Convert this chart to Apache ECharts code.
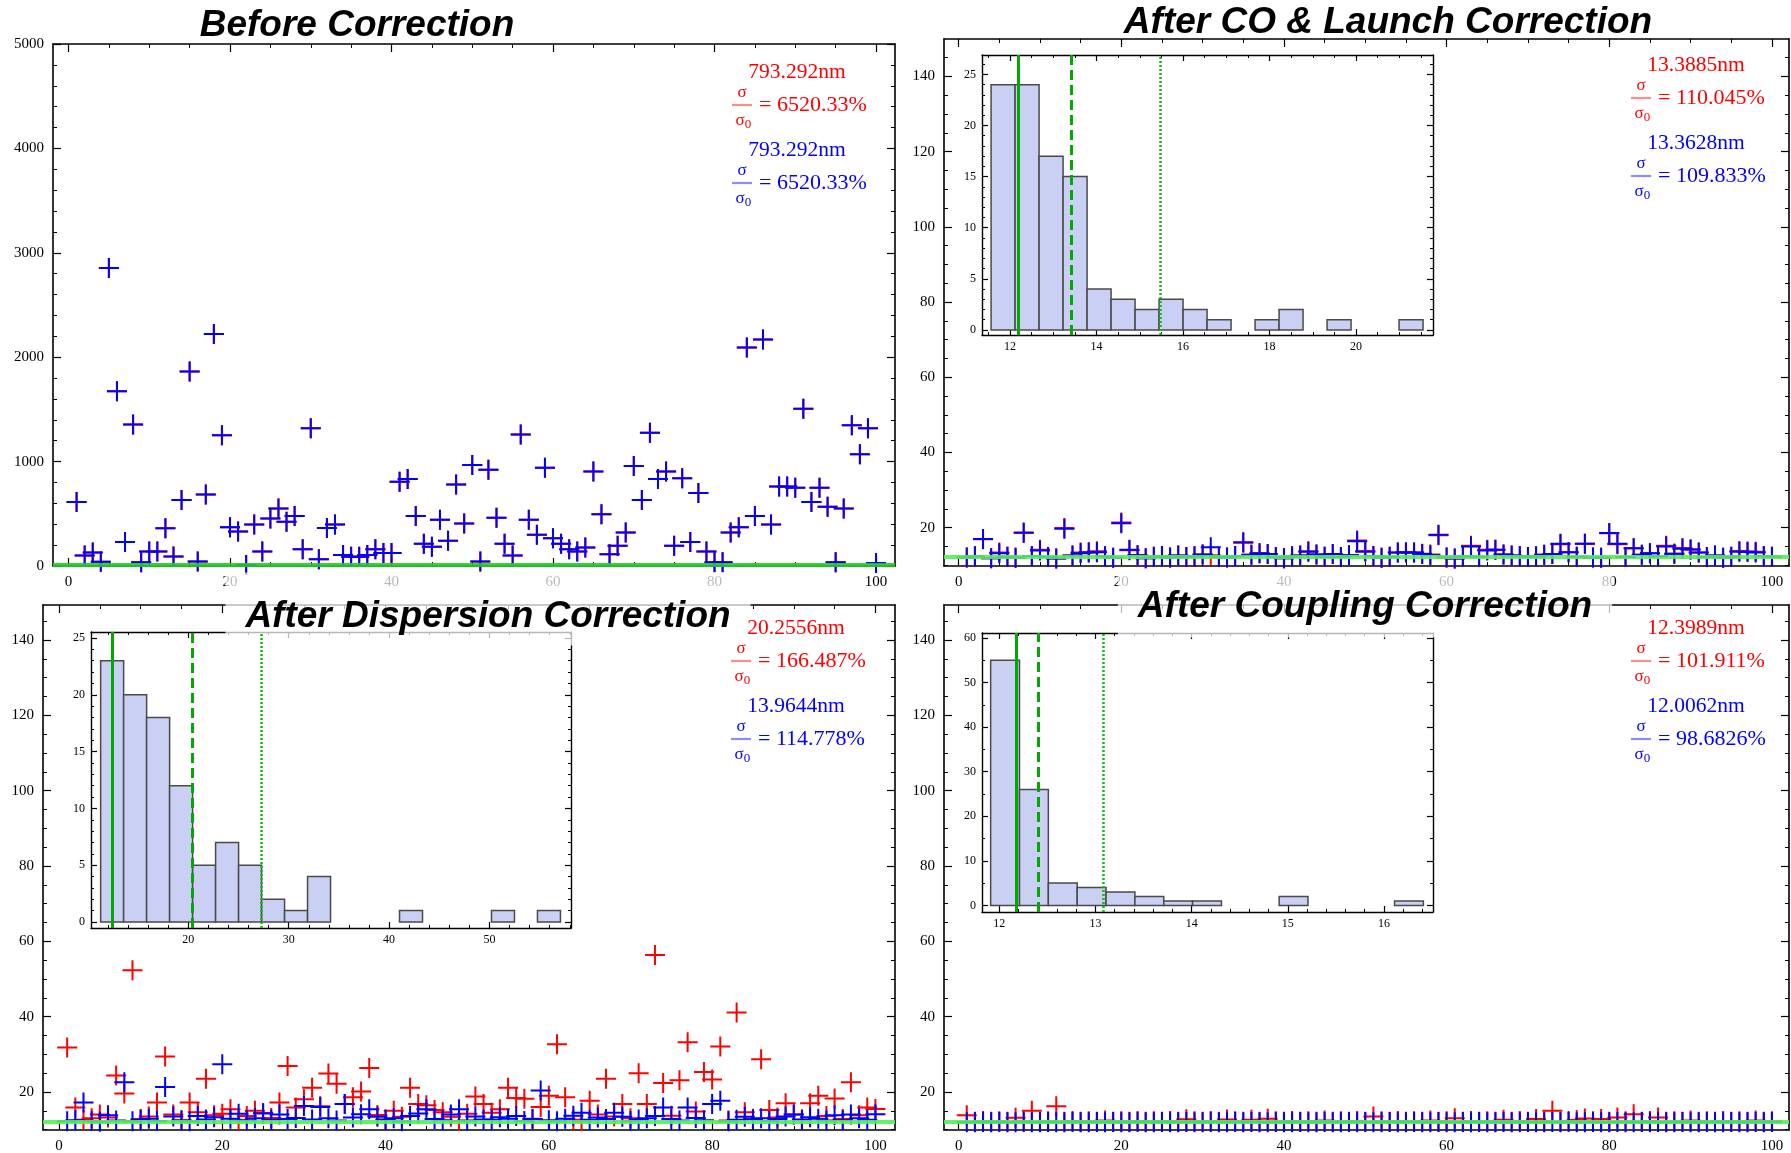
<!DOCTYPE html>
<html>
<head>
<meta charset="utf-8">
<script src="https://cdn.jsdelivr.net/npm/echarts@6/dist/echarts.min.js"></script>
<style>
  html, body { margin: 0; padding: 0; background: #fff; }
  #chart { width: 1791px; height: 1153px; }
</style>
</head>
<body>
<div id="chart"></div>
<script>
// ---- data ----------------------------------------------------------------
// sample index (x) for every scatter panel: points 1..100
const pointIdx = Array.from({ length: 100 }, (_, i) => i + 1);

// before correction (red and blue coincide)
const beforeVals = [
  613, 100, 130, 40, 2855, 1674, 230, 1355, 35, 140,
  140, 362, 90, 631, 1862, 42, 684, 2223, 1252, 372,
  330, 10, 397, 140, 454, 550, 425, 479, 160, 1319,
  64, 365, 397, 106, 89, 89, 106, 160, 124, 124,
  808, 833, 479, 213, 184, 443, 241, 780, 408, 968,
  42, 922, 461, 213, 100, 1259, 443, 300, 940, 266,
  213, 160, 140, 177, 904, 496, 113, 195, 320, 957,
  631, 1277, 833, 904, 195, 840, 230, 699, 140, 35,
  35, 320, 372, 2092, 479, 2170, 397, 762, 762, 750,
  1507, 613, 750, 567, 35, 550, 1347, 1071, 1319, 28
];

// after CO & launch correction
const trRed = [
  12.1, 12.4, 16.9, 11.9, 13.4, 12.3, 12.0, 18.6, 12.5, 14.1,
  12.2, 11.8, 19.9, 12.6, 13.4, 13.5, 13.7, 12.4, 12.0, 21.4,
  14.0, 12.7, 11.9, 12.3, 12.5, 12.1, 12.6, 12.2, 12.4, 12.9,
  12.7, 12.3, 12.1, 12.5, 16.0, 12.8, 13.2, 13.0, 12.2, 11.9,
  12.4, 12.6, 13.7, 12.9, 12.3, 13.0, 12.2, 12.7, 16.6, 13.8,
  12.5, 12.0, 12.3, 13.4, 13.5, 13.4, 13.1, 12.9, 18.0, 12.1,
  11.8, 12.4, 15.2, 12.3, 14.1, 14.1, 12.9, 12.6, 12.5, 12.2,
  12.4, 12.8, 13.0, 15.6, 13.5, 12.3, 15.7, 12.1, 12.0, 18.5,
  15.6, 12.2, 14.5, 12.8, 13.2, 12.4, 15.2, 13.1, 14.6, 14.2,
  13.4, 12.2, 12.6, 12.0, 12.3, 13.8, 13.6, 13.6, 12.5, 12.3
];
const trBlue = [
  12.1, 12.4, 17.0, 11.9, 13.2, 12.3, 12.0, 18.7, 12.5, 13.9,
  12.2, 11.8, 19.7, 12.6, 13.2, 13.4, 13.5, 12.4, 12.0, 21.2,
  14.1, 12.7, 11.9, 12.3, 12.5, 12.1, 12.6, 12.2, 12.4, 12.9,
  14.8, 12.3, 12.1, 12.5, 16.1, 12.8, 13.2, 13.0, 12.2, 11.9,
  12.4, 12.6, 13.6, 12.9, 12.3, 13.0, 12.2, 12.7, 16.4, 13.6,
  12.5, 12.0, 12.3, 13.4, 13.4, 13.4, 13.0, 12.7, 18.1, 12.1,
  11.8, 12.4, 15.0, 12.3, 13.9, 14.1, 12.9, 12.6, 12.5, 12.2,
  12.4, 12.8, 13.0, 15.7, 13.5, 12.3, 15.7, 12.1, 12.0, 18.6,
  15.7, 12.2, 14.5, 12.8, 13.2, 12.4, 15.0, 13.1, 14.4, 14.2,
  13.4, 12.2, 12.6, 12.0, 12.3, 13.6, 13.6, 13.4, 12.5, 12.3
];

// after dispersion correction
const blRed = [
  31.8, 15.9, 12.6, 13.0, 14.0, 13.2, 24.4, 19.6, 52.3, 12.8,
  13.5, 17.2, 29.4, 14.0, 12.5, 17.2, 14.6, 23.5, 13.8, 14.2,
  15.4, 12.4, 13.6, 15.0, 14.4, 13.1, 17.2, 26.9, 15.9, 18.1,
  21.1, 16.2, 24.9, 22.2, 16.8, 18.6, 20.1, 26.4, 13.9, 12.7,
  15.0, 13.4, 21.1, 16.8, 16.5, 15.2, 14.6, 13.4, 12.3, 14.2,
  18.8, 16.8, 14.5, 15.4, 21.1, 18.4, 18.2, 12.9, 16.0, 19.0,
  32.7, 18.6, 12.6, 12.2, 17.7, 14.0, 23.5, 13.5, 16.8, 13.0,
  25.0, 16.8, 56.4, 22.4, 13.7, 23.1, 33.2, 14.8, 25.3, 23.3,
  32.1, 12.4, 41.1, 14.6, 12.9, 28.7, 15.2, 13.2, 17.0, 14.0,
  12.7, 17.0, 19.0, 13.6, 18.3, 12.8, 22.6, 13.8, 15.9, 15.5
];
const blBlue = [
  12.2, 12.5, 17.2, 12.3, 12.1, 13.8, 12.4, 22.6, 12.2, 12.6,
  12.9, 12.3, 21.3, 13.5, 12.4, 12.2, 13.6, 12.7, 13.3, 27.4,
  12.9, 14.2, 12.5, 13.0, 14.3, 12.6, 14.0, 12.8, 13.1, 16.3,
  12.7, 16.0, 13.0, 12.4, 16.8, 13.2, 14.1, 15.4, 13.4, 12.6,
  13.0, 12.2, 13.6, 14.3, 15.4, 12.8, 12.5, 14.0, 15.4, 12.4,
  13.5, 12.7, 12.6, 13.3, 12.9, 13.6, 12.3, 12.8, 20.4, 12.5,
  12.2, 12.9, 13.7, 14.5, 12.6, 13.2, 12.8, 14.5, 13.4, 12.3,
  12.7, 13.0, 13.6, 15.9, 12.8, 12.4, 15.9, 13.1, 12.5, 16.8,
  17.7, 12.2, 12.6, 13.4, 12.7, 13.0, 12.3, 12.8, 13.5, 14.0,
  12.6, 13.3, 12.9, 12.4, 13.8, 12.5, 14.0, 13.0, 12.6, 14.1
];

// after coupling correction
const brRed = [
  13.8, 12.1, 12.3, 12.1, 12.2, 12.1, 13.15, 12.3, 15.0, 12.1,
  12.2, 16.2, 12.1, 12.3, 12.1, 12.2, 12.1, 12.4, 12.1, 12.2,
  12.1, 12.3, 12.1, 12.2, 12.1, 12.3, 12.1, 12.75, 12.2, 12.1,
  12.3, 12.1, 12.7, 12.2, 12.1, 12.65, 12.1, 12.9, 12.2, 12.1,
  12.3, 12.1, 12.2, 12.1, 12.4, 12.1, 12.2, 12.1, 12.3, 12.1,
  13.5, 12.2, 12.1, 12.3, 12.1, 12.2, 12.1, 12.4, 12.1, 12.2,
  13.0, 12.1, 12.3, 12.1, 12.2, 12.1, 12.6, 12.1, 12.3, 12.1,
  12.85, 12.2, 15.0, 12.1, 12.3, 12.55, 12.95, 12.2, 12.85, 12.1,
  13.2, 12.2, 14.1, 12.1, 12.3, 13.25, 12.1, 12.2, 12.1, 12.4,
  12.1, 12.2, 12.1, 12.3, 12.1, 12.2, 12.1, 12.4, 12.1, 12.2
];
const brBlue = [
  12.0, 11.98, 12.02, 12.0, 12.01, 11.99, 12.0, 12.03, 11.98, 12.0,
  12.02, 12.0, 11.99, 12.01, 12.0, 11.98, 12.02, 12.0, 12.01, 11.99,
  12.0, 12.02, 11.98, 12.0, 12.01, 11.99, 12.0, 12.02, 12.0, 11.98,
  12.01, 12.0, 11.99, 12.02, 12.0, 12.01, 11.98, 12.0, 12.02, 11.99,
  12.0, 12.01, 12.0, 11.98, 12.02, 12.0, 11.99, 12.01, 12.0, 12.02,
  11.98, 12.0, 12.01, 11.99, 12.0, 12.02, 12.0, 11.98, 12.01, 12.0,
  11.99, 12.02, 12.0, 12.01, 11.98, 12.0, 12.02, 11.99, 12.0, 12.01,
  12.0, 11.98, 12.02, 12.0, 12.01, 11.99, 12.0, 12.02, 11.98, 12.0,
  12.01, 12.0, 11.99, 12.02, 12.0, 12.01, 11.98, 12.0, 12.02, 11.99,
  12.0, 12.01, 12.0, 11.98, 12.02, 12.0, 11.99, 12.01, 12.0, 12.02
];

// design emittance (green reference line)
const designLevel = 12.16;

// inset histograms: counts per bin, bin start and bin width
const trHistCounts = [24, 24, 17, 15, 4, 3, 2, 3, 2, 1, 0, 1, 2, 0, 1, 0, 0, 1];
const trBinStart = 11.56, trBinWidth = 0.555;
const blHistCounts = [23, 20, 18, 12, 5, 7, 5, 2, 1, 4, 0, 0, 0, 1, 0, 0, 0, 1, 0, 1];
const blBinStart = 11.27, blBinWidth = 2.29;
const brHistCounts = [55, 26, 5, 4, 3, 2, 1, 1, 0, 0, 2, 0, 0, 0, 1];
const brBinStart = 11.91, brBinWidth = 0.3;

// vertical markers in the insets: solid, dashed, dotted
const trMarkers = [12.18, 13.41, 15.48];
const blMarkers = [12.4, 20.4, 27.24];
const brMarkers = [12.18, 12.41, 13.08];

// annotation texts [red value, red ratio, blue value, blue ratio]
const tlStats = ['793.292nm', '6520.33%', '793.292nm', '6520.33%'];
const trStats = ['13.3885nm', '110.045%', '13.3628nm', '109.833%'];
const blStats = ['20.2556nm', '166.487%', '13.9644nm', '114.778%'];
const brStats = ['12.3989nm', '101.911%', '12.0062nm', '98.6826%'];

// tick labels
const idxTicks = [0, 20, 40, 60, 80, 100];
const beforeTicks = [0, 1000, 2000, 3000, 4000, 5000];
const emitTicks = [20, 40, 60, 80, 100, 120, 140];
const trInsetXTicks = [12, 14, 16, 18, 20];
const blInsetXTicks = [20, 30, 40, 50];
const brInsetXTicks = [12, 13, 14, 15, 16];
const countTicks25 = [0, 5, 10, 15, 20, 25];
const countTicks60 = [0, 10, 20, 30, 40, 50, 60];

// ---- helpers -------------------------------------------------------------
const SERIF = '"Liberation Serif", "Times New Roman", serif';
const SANS = '"Liberation Sans", Arial, sans-serif';

function steps(a, b, s) {
  const out = [];
  for (let v = a; v <= b + 1e-9; v += s) out.push(+v.toFixed(4));
  return out;
}

const grids = [];
const xAxes = [];
const yAxes = [];
const series = [];

// frame with inward ticks on all four sides, like the original plots
function frameAxes(list, dim, gi, min, max, majors, minors, st) {
  const sides = dim === 'x' ? ['bottom', 'top'] : ['left', 'right'];
  let first = -1;
  sides.forEach((side, s) => {
    const base = { type: 'value', gridIndex: gi, min: min, max: max, position: side,
      splitLine: { show: false }, axisPointer: { show: false } };
    if (s === 0) first = list.length;
    list.push(Object.assign({}, base, {
      axisLine: { show: true, onZero: false, lineStyle: { color: '#000', width: st.lw } },
      axisTick: { show: true, inside: true, length: st.major, customValues: majors,
        lineStyle: { color: '#000', width: 1.2 } },
      axisLabel: s === 0 ? {
        show: true, customValues: majors, margin: st.margin, color: '#000',
        fontFamily: SERIF, fontSize: st.size, formatter: v => String(v)
      } : { show: false }
    }));
    list.push(Object.assign({}, base, {
      axisLine: { show: false, onZero: false },
      axisTick: { show: true, inside: true, length: st.minor, customValues: minors,
        lineStyle: { color: '#000', width: 1 } },
      axisLabel: { show: false }
    }));
  });
  return first;
}

const CROSS = 'path://M9,0h2v9h9v2h-9v9h-2v-9h-9v-2h9z';

function scatterPanel(rect, xr, yr, yMajors, yMinors, redVals, blueVals, lineColor) {
  const gi = grids.length;
  grids.push(Object.assign({ show: false, containLabel: false, outerBoundsMode: 'none' }, rect));
  const xi = frameAxes(xAxes, 'x', gi, xr[0], xr[1], idxTicks, steps(0, 100, 5),
    { lw: 1.6, major: 8, minor: 4, margin: 9, size: 15 });
  const yi = frameAxes(yAxes, 'y', gi, yr[0], yr[1], yMajors, yMinors,
    { lw: 1.6, major: 8, minor: 4, margin: 9, size: 15 });
  const pts = vals => vals.map((v, i) => [pointIdx[i], v]);
  series.push({
    type: 'scatter', xAxisIndex: xi, yAxisIndex: yi, data: pts(redVals),
    symbol: CROSS, symbolSize: 20, itemStyle: { color: '#ff0000', opacity: 1 }, z: 2
  });
  series.push({
    type: 'scatter', xAxisIndex: xi, yAxisIndex: yi, data: pts(blueVals),
    symbol: CROSS, symbolSize: 20, itemStyle: { color: '#0000ff', opacity: 1 }, z: 3,
    markLine: {
      silent: true, symbol: ['none', 'none'], label: { show: false }, animation: false,
      lineStyle: { color: lineColor, width: 4, type: 'solid', opacity: 0.9 },
      data: [{ yAxis: designLevel }]
    }
  });
}

function histInset(rect, xr, yr, xMajors, xMinors, yMajors, yMinors, counts, start, width, markers) {
  const gi = grids.length;
  grids.push(Object.assign({ show: true, backgroundColor: '#fff', borderWidth: 0,
    containLabel: false, outerBoundsMode: 'none' }, rect));
  const xi = frameAxes(xAxes, 'x', gi, xr[0], xr[1], xMajors, xMinors,
    { lw: 1.4, major: 6, minor: 3, margin: 6, size: 12 });
  const yi = frameAxes(yAxes, 'y', gi, yr[0], yr[1], yMajors, yMinors,
    { lw: 1.4, major: 6, minor: 3, margin: 6, size: 12 });
  const bins = [];
  counts.forEach((c, i) => { if (c > 0) bins.push([start + i * width, start + (i + 1) * width, c]); });
  const green = '#00aa00';
  series.push({
    type: 'custom', xAxisIndex: xi, yAxisIndex: yi, data: bins, z: 10,
    encode: { x: [0, 1], y: 2 },
    renderItem: (params, api) => {
      const p0 = api.coord([api.value(0), 0]);
      const p1 = api.coord([api.value(1), api.value(2)]);
      return {
        type: 'rect',
        shape: { x: p0[0], y: p1[1], width: p1[0] - p0[0], height: p0[1] - p1[1] },
        style: { fill: '#c9d0f3', stroke: '#4a4a4a', lineWidth: 1.5 }
      };
    },
    markLine: {
      silent: true, symbol: ['none', 'none'], label: { show: false }, animation: false, z: 11,
      data: [
        { xAxis: markers[0], lineStyle: { color: green, width: 3, type: 'solid' } },
        { xAxis: markers[1], lineStyle: { color: green, width: 3, type: [10, 5] } },
        { xAxis: markers[2], lineStyle: { color: '#11bb11', width: 2.5, type: [2, 2] } }
      ]
    }
  });
}

// ---- panels --------------------------------------------------------------
scatterPanel({ left: 53, top: 44, width: 842, height: 522 }, [-1.92, 102.35], [0, 5000],
  beforeTicks, steps(0, 5000, 200), beforeVals, beforeVals, '#22cc22');
scatterPanel({ left: 944, top: 39, width: 845, height: 527 }, [-1.8, 102.1], [9.81, 149.97],
  emitTicks, steps(10, 145, 5), trRed, trBlue, '#55ee55');
scatterPanel({ left: 43, top: 605, width: 852, height: 525 }, [-1.96, 102.4], [9.91, 149.3],
  emitTicks, steps(10, 145, 5), blRed, blBlue, '#55ee55');
scatterPanel({ left: 944, top: 605, width: 845, height: 525 }, [-1.8, 102.1], [9.91, 149.3],
  emitTicks, steps(10, 145, 5), brRed, brBlue, '#55ee55');

histInset({ left: 982, top: 55, width: 451, height: 280 }, [11.35, 21.78], [-0.5, 26.9],
  trInsetXTicks, steps(11.5, 21.5, 0.5), countTicks25, steps(0, 26, 1),
  trHistCounts, trBinStart, trBinWidth, trMarkers);
histInset({ left: 91, top: 632, width: 480, height: 296 }, [10.31, 58.12], [-0.53, 25.53],
  blInsetXTicks, steps(12, 58, 2), countTicks25, steps(0, 25, 1),
  blHistCounts, blBinStart, blBinWidth, blMarkers);
histInset({ left: 982, top: 633, width: 451, height: 279 }, [11.82, 16.51], [-1.48, 61.1],
  brInsetXTicks, steps(11.8, 16.4, 0.2), countTicks60, steps(0, 60, 5),
  brHistCounts, brBinStart, brBinWidth, brMarkers);

// ---- titles --------------------------------------------------------------
const titleFont = { fontFamily: SANS, fontWeight: 'bold', fontStyle: 'italic', fontSize: 37, color: '#000' };
const veil = 'rgba(255,255,255,0.72)';
const titles = [
  { text: 'Before Correction', left: 357, top: 26, textAlign: 'center', textVerticalAlign: 'middle',
    padding: 0, textStyle: titleFont },
  { text: 'After CO & Launch Correction', left: 1388, top: 23, textAlign: 'center', textVerticalAlign: 'middle',
    padding: 0, textStyle: titleFont },
  { text: 'After Dispersion Correction', left: 468, top: 591, textAlign: 'center', textVerticalAlign: 'middle',
    padding: [26, 20, 10, 20], backgroundColor: veil, textStyle: titleFont },
  { text: 'After Coupling Correction', left: 1345, top: 592, textAlign: 'center', textVerticalAlign: 'middle',
    padding: [15, 20, 12, 20], backgroundColor: veil, textStyle: titleFont }
];

// ---- sigma annotations ---------------------------------------------------
function textEl(x, y, text, fill, size, align) {
  return {
    type: 'text', x: x, y: y, z: 50,
    style: { text: text, fill: fill, font: size + 'px ' + SERIF,
      align: align, verticalAlign: 'middle', textAlign: align, textVerticalAlign: 'middle' }
  };
}
function annotation(lx, y0, s) {
  const els = [];
  [[s[0], s[1], '#ff0000', '#ff8c8c', 0], [s[2], s[3], '#0000ff', '#8c8cff', 78]].forEach(r => {
    const y = y0 + r[4];
    els.push(textEl(lx + 65, y, r[0], r[2], 21.5, 'center'));
    els.push(textEl(lx + 10, y + 21, 'σ', r[2], 17, 'center'));
    els.push({ type: 'line', z: 50, shape: { x1: lx, y1: y + 33, x2: lx + 20, y2: y + 33 },
      style: { stroke: r[3], lineWidth: 2.2 } });
    els.push(textEl(lx + 8, y + 49, 'σ', r[2], 17, 'center'));
    els.push(textEl(lx + 16, y + 53, '0', r[2], 13, 'center'));
    els.push(textEl(lx + 27, y + 33, '= ' + r[1], r[2], 22, 'left'));
  });
  return els;
}
const graphicEls = [].concat(
  annotation(732, 72, tlStats),
  annotation(1631, 65, trStats),
  annotation(731, 628, blStats),
  annotation(1631, 628, brStats)
);

// ---- chart ---------------------------------------------------------------
const chart = echarts.init(document.getElementById('chart'), null, { renderer: 'canvas' });
chart.setOption({
  animation: false,
  backgroundColor: '#fff',
  title: titles,
  grid: grids,
  xAxis: xAxes,
  yAxis: yAxes,
  series: series,
  graphic: { elements: graphicEls }
});
</script>
</body>
</html>
